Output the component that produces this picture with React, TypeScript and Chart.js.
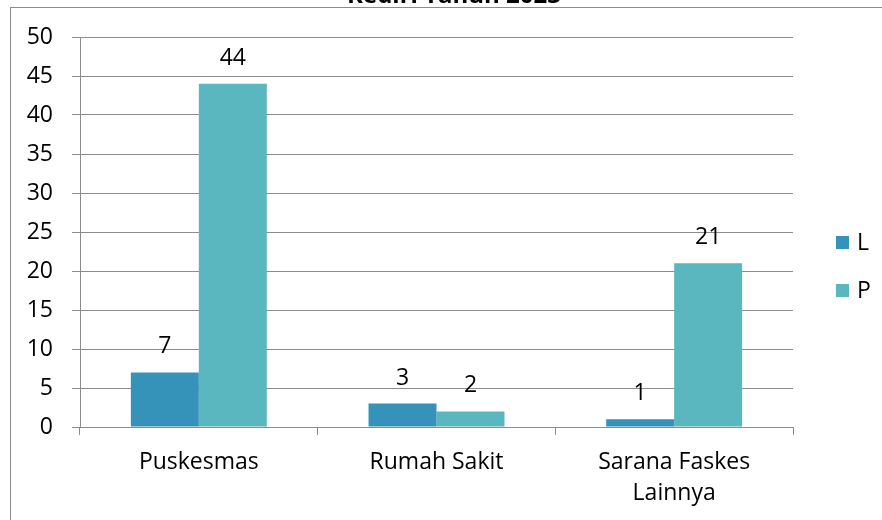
import React, { useEffect, useRef } from "react";
import { Chart, registerables } from "chart.js";

Chart.register(...registerables);

const categories: (string | string[])[] = ["Puskesmas", "Rumah Sakit", ["Sarana Faskes", "Lainnya"]];
const seriesNames = ["L", "P"];
const valuesL = [7, 3, 1];
const valuesP = [44, 2, 21];
const seriesColors = ["#3592B9", "#5AB6BF"];
const titleText = "Kediri Tahun 2023";
const FONT = "'Open Sans', 'Noto Sans', sans-serif";

export default function App() {
  const ref = useRef<HTMLCanvasElement | null>(null);

  useEffect(() => {
    if (!ref.current) return;

    const labelsPlugin = {
      id: "barLabels",
      afterDatasetsDraw(chart: any) {
        const ctx = chart.ctx;
        ctx.save();
        ctx.font = `23px ${FONT}`;
        ctx.fillStyle = "#000";
        ctx.textAlign = "center";
        ctx.textBaseline = "alphabetic";
        chart.data.datasets.forEach((ds: any, di: number) => {
          const meta = chart.getDatasetMeta(di);
          meta.data.forEach((bar: any, i: number) => {
            ctx.fillText(String(ds.data[i]), bar.x, bar.y - 19);
          });
        });
        ctx.restore();
      },
    };

    const extrasPlugin = {
      id: "extras",
      afterDraw(chart: any) {
        const ctx = chart.ctx;
        ctx.save();
        ctx.font = `bold 24px ${FONT}`;
        ctx.fillStyle = "#000";
        ctx.textAlign = "center";
        ctx.textBaseline = "alphabetic";
        ctx.fillText(titleText, 454, 3);
        ctx.font = `23px ${FONT}`;
        ctx.textAlign = "left";
        ctx.textBaseline = "middle";
        chart.data.datasets.forEach((ds: any, i: number) => {
          const cy = 243 + i * 48;
          ctx.fillStyle = ds.backgroundColor;
          ctx.fillRect(836, cy - 7, 13, 13);
          ctx.fillStyle = "#000";
          ctx.fillText(ds.label, 857, cy);
        });
        ctx.restore();
      },
    };

    const chart = new Chart(ref.current, {
      type: "bar",
      data: {
        labels: categories,
        datasets: [
          { label: seriesNames[0], data: valuesL, backgroundColor: seriesColors[0] },
          { label: seriesNames[1], data: valuesP, backgroundColor: seriesColors[1] },
        ],
      },
      options: {
        responsive: false,
        animation: false,
        layout: { padding: { left: 0, right: 89, top: 37, bottom: 0 } },
        datasets: { bar: { categoryPercentage: 0.572, barPercentage: 1 } },
        plugins: {
          legend: { display: false },
          title: { display: false },
          tooltip: { enabled: false },
        },
        scales: {
          x: {
            grid: { drawOnChartArea: false, drawTicks: true, tickLength: 8, color: "#8c8c8c" },
            border: { color: "#8c8c8c" },
            ticks: { color: "#000", font: { family: FONT, size: 23, lineHeight: 1.35 }, padding: 12, maxRotation: 0 },
            afterFit: (s: any) => { s.height = 93; },
          },
          y: {
            min: 0,
            max: 50,
            ticks: { stepSize: 5, color: "#000", font: { family: FONT, size: 23 }, padding: 19 },
            grid: { color: "#8c8c8c", tickLength: 8 },
            border: { color: "#8c8c8c" },
            afterFit: (s: any) => { s.width = 80; },
          },
        },
      },
      plugins: [labelsPlugin, extrasPlugin],
    });
    return () => chart.destroy();
  }, []);

  return (
    <div style={{ position: "fixed", left: 0, top: 0, width: 882, height: 520, overflow: "hidden", background: "#fff" }}>
      <div
        style={{
          position: "absolute",
          left: 10,
          top: 7,
          width: 900,
          height: 600,
          borderLeft: "1px solid #8c8c8c",
          borderTop: "1px solid #8c8c8c",
        }}
      />
      <canvas ref={ref} width={882} height={520} style={{ position: "absolute", left: 0, top: 0 }} />
    </div>
  );
}
